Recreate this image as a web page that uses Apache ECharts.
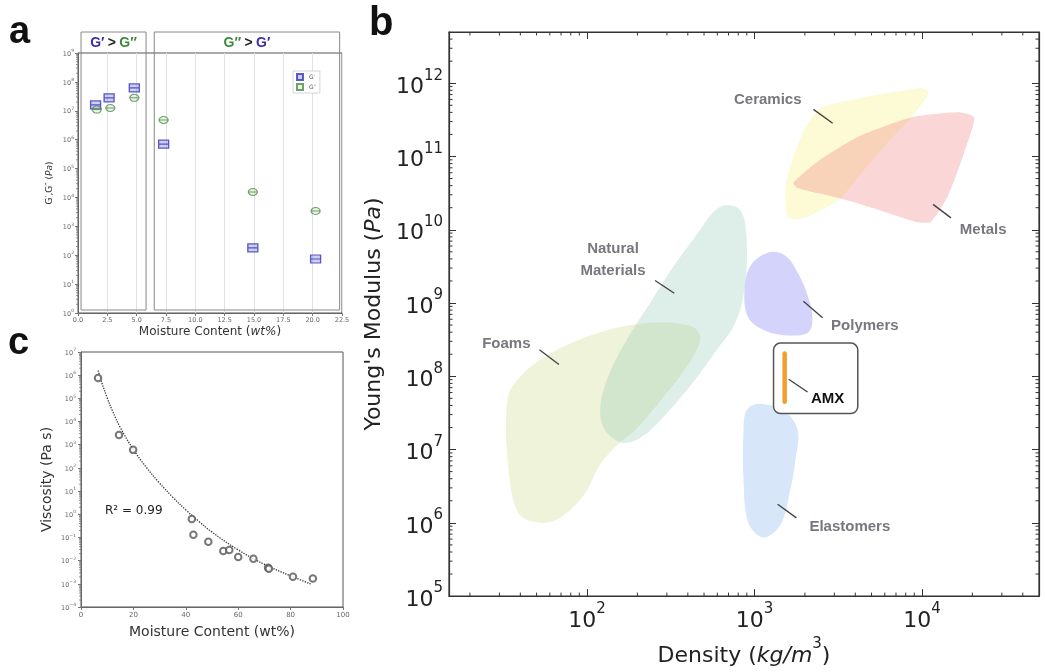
<!DOCTYPE html>
<html><head><meta charset="utf-8">
<script src="https://cdn.jsdelivr.net/npm/echarts@6/dist/echarts.min.js"></script>
<style>html,body{margin:0;padding:0;background:#fff}#c{width:1045px;height:672px}</style>
</head><body><div id="c"></div>
<script>
// ---------------- Panel a : G', G'' vs moisture ----------------
const aGpX  = [1.5, 2.65, 4.8, 7.3, 14.9, 20.25];
const aGpY  = [1.6e7, 2.8e7, 6.2e7, 7.0e5, 180, 74];
const aGppX = [1.6, 2.75, 4.8, 7.3, 14.9, 20.25];
const aGppY = [1.1e7, 1.25e7, 2.8e7, 4.8e6, 1.55e4, 3400];
const aBoxes = [[0.26, 5.8], [6.5, 22.3]];           // regime boxes (wt%)
const aHeaders = ['{p|G′} {k|>} {g|G″}', '{g|G″} {k|>} {p|G′}'];
const aLegend = ['G′', 'G″'];

// ---------------- Panel c : viscosity vs moisture ----------------
const cX = [6.5, 14.5, 19.9, 42.3, 42.9, 48.6, 54.3, 56.6, 60.0, 65.8, 71.4, 71.7, 80.9, 88.5];
const cY = [7.6e5, 2600, 600, 0.63, 0.13, 0.065, 0.026, 0.029, 0.0145, 0.012, 0.0049, 0.0045, 0.0020, 0.0017];
const cFitX = [6.5, 8, 10, 12, 15, 20, 25, 30, 35, 40, 45, 50, 60, 70, 80, 88];
const cFitY = [1.6e6, 4.6e5, 1.05e5, 2.9e4, 5.5e3, 620, 104, 22, 5.5, 1.55, 0.49, 0.17, 0.029, 0.0069, 0.0022, 0.00095];

// ---------------- Panel b : Ashby chart (density kg/m3, modulus Pa) ----------------
const foams = [[36,7.4e7],[56,1.85e8],[120,4.0e8],[238,5.4e8],[414,4.9e8],[475,3.4e8],[414,1.6e8],[274,4.6e7],[194,1.85e7],[153,1.17e7],[120,6.3e6],[97,2.5e6],[69,1.17e6],[52,1.0e6],[39,1.36e6],[34,5.4e6],[33,3.4e7]];
const naturalMaterials = [[670,2.15e10],[824,1.85e10],[895,8.6e9],[883,1.85e9],[769,5.4e8],[583,2.15e8],[414,7.4e7],[274,2.5e7],[208,1.45e7],[162,1.24e7],[128,1.85e7],[120,3.6e7],[134,1.0e8],[169,2.9e8],[238,1.0e9],[336,3.4e9],[475,1.0e10],[561,1.7e10]];
const ceramics = [[1580,1.49e10],[1535,4.0e10],[1710,1.0e11],[2020,2.5e11],[2480,4.6e11],[4310,6.3e11],[9860,8.6e11],[11000,7.4e11],[8830,3.6e11],[6080,1.45e11],[4200,5.4e10],[3270,2.67e10],[2320,1.69e10],[1885,1.4e10]];
const metals = [[1710,4.4e10],[2480,9.1e10],[4140,1.85e11],[8600,3.4e11],[16400,4.0e11],[20500,3.4e11],[17800,1.1e11],[14300,2.9e10],[11300,1.28e10],[9200,1.28e10],[5160,1.96e10],[3270,2.67e10],[1810,3.7e10]];
const polymers = [[1210,4.9e9],[1535,4.4e9],[1830,2.5e9],[2100,1.17e9],[2220,6.3e8],[2100,4.0e8],[1640,3.6e8],[1160,4.2e8],[920,6.3e8],[871,1.36e9],[946,3.2e9]];
const elastomers = [[1040,4.2e7],[1490,3.4e7],[1810,1.85e7],[1760,7.4e6],[1640,2.9e6],[1430,9.4e5],[1130,6.3e5],[920,1.0e6],[860,4.0e6],[860,1.85e7],[895,3.4e7]];
const amxBar = [[1515, 4.5e7], [1515, 2.05e8]];
const amxBox = [[1300, 2.84e8, 4140, 3.1e7]];
const bLabelText = ['Ceramics', 'Metals', 'Natural\nMaterials', 'Foams', 'Polymers', 'Elastomers', 'AMX'];
const bLabelPos = [[1200,5.9e11],[23200,1.0e10],[143,3.86e9],[33,2.75e8],[4560,4.9e8],[3710,8.85e5],[2735,4.93e7]];
const bLeaders = [[2250,4.4e11,2930,2.84e11],[11650,2.22e10,14900,1.45e10],[255,2.03e9,332,1.36e9],[52,2.3e8,68,1.45e8],[1960,1.06e9,2550,6.3e8],[1375,1.79e6,1780,1.17e6],[1600,9.1e7,2075,6.1e7]];

const DV = 'DejaVu Sans', AR = 'Liberation Sans';

function minorLog(lo, hi) { // axis minor tick positions (2..9 x 10^k)
  const out = [];
  for (let k = Math.floor(Math.log10(lo)); k <= Math.ceil(Math.log10(hi)); k++)
    for (let m = 2; m <= 9; m++) { const v = m * Math.pow(10, k); if (v > lo && v < hi) out.push(v); }
  return out;
}
function powLabel(v) {
  const l = Math.log10(v), e = Math.round(l);
  if (Math.abs(l - e) > 1e-6) return '';
  return '{b|10}{s|' + (e < 0 ? '−' + (-e) : e) + '}';
}
function powRich(bs, ss, lh, sl, col) {
  return { b: {fontSize: bs, fontFamily: DV, color: col, lineHeight: lh, verticalAlign: 'bottom'},
           s: {fontSize: ss, fontFamily: DV, color: col, lineHeight: sl, verticalAlign: 'top'} };
}

const chart = echarts.init(document.getElementById('c'), null, {renderer: 'canvas'});

function polySeries(pts, fill, z, sm) {
  return { type: 'custom', xAxisIndex: 2, yAxisIndex: 2, data: pts, z: z, silent: true, clip: true,
    renderItem: (params, api) => params.dataIndex !== 0 ? null : ({
      type: 'polygon', shape: {points: pts.map(p => api.coord(p)), smooth: sm}, style: {fill: fill}
    }) };
}
function tickSeries(xi, yi, vals, isX, len, bothSides) {
  return { type: 'custom', xAxisIndex: xi, yAxisIndex: yi, silent: true, clip: false, z: 5,
    data: vals.map(v => [v]),
    renderItem: (params, api) => {
      const cs = params.coordSys, v = api.value(0), ch = [];
      const st = {stroke: '#333', lineWidth: 1};
      if (isX) {
        const px = api.coord([v, 1e5])[0];
        ch.push({type:'line', shape:{x1:px, y1:cs.y+cs.height, x2:px, y2:cs.y+cs.height-len}, style: st});
        if (bothSides) ch.push({type:'line', shape:{x1:px, y1:cs.y, x2:px, y2:cs.y+len}, style: st});
      } else {
        const py = api.coord([100, v])[1];
        if (bothSides) {
          ch.push({type:'line', shape:{x1:cs.x, y1:py, x2:cs.x+len, y2:py}, style: st});
          ch.push({type:'line', shape:{x1:cs.x+cs.width, y1:py, x2:cs.x+cs.width-len, y2:py}, style: st});
        } else {
          ch.push({type:'line', shape:{x1:cs.x, y1:py, x2:cs.x-len, y2:py}, style: {stroke:'#777', lineWidth:0.8}});
        }
      }
      return {type: 'group', children: ch};
    } };
}

const smallAxisLabel = {fontSize: 6.5, color: '#666', fontFamily: DV};
const bTickRich = powRich(22, 15, 30, 14, '#222');
const bNameRich = {
  n: {fontSize: 22, fontFamily: DV, color: '#222', lineHeight: 30, verticalAlign: 'bottom'},
  i: {fontSize: 22, fontStyle: 'italic', fontFamily: DV, color: '#222', lineHeight: 30, verticalAlign: 'bottom'},
  s: {fontSize: 15, fontFamily: DV, color: '#222', lineHeight: 16, verticalAlign: 'top'}
};

const option = {
  animation: false,
  backgroundColor: '#fff',
  grid: [
    {left: 78, top: 53, width: 264, height: 260, show: true, borderColor: '#555', borderWidth: 1, backgroundColor: 'transparent'},
    {left: 81, top: 352, width: 262, height: 255, show: true, borderColor: '#555', borderWidth: 1},
    {left: 449, top: 32, width: 590, height: 577, show: true, borderColor: '#333', borderWidth: 1.2}
  ],
  legend: {
    data: [{name: aLegend[0], icon: 'path://M0,0H10V10H0Z'}, {name: aLegend[1], icon: 'path://M0,0H10V10H0Z'}],
    left: 293, top: 71, orient: 'vertical', itemWidth: 8, itemHeight: 6, itemGap: 2,
    padding: [2, 4, 2, 3], borderColor: '#ccc', borderWidth: 0.8, backgroundColor: '#fff',
    textStyle: {fontSize: 6, color: '#555', fontFamily: DV}
  },
  xAxis: [
    {gridIndex: 0, type: 'value', min: 0, max: 22.5, interval: 2.5,
     axisLine: {lineStyle: {color: '#666'}}, axisTick: {length: 3, lineStyle: {color: '#777'}},
     axisLabel: Object.assign({formatter: v => v.toFixed(1), margin: 4}, smallAxisLabel),
     splitLine: {show: true, lineStyle: {color: '#dfe3e8', width: 1}},
     name: '{n|Moisture Content (}{i|wt%}{n|)}', nameLocation: 'middle', nameGap: 13,
     nameTextStyle: {rich: {n: {fontSize: 12, fontFamily: DV, color: '#333'}, i: {fontSize: 12, fontStyle: 'italic', fontFamily: DV, color: '#333'}}}},
    {gridIndex: 1, type: 'value', min: 0, max: 100, interval: 20,
     axisLine: {lineStyle: {color: '#666'}}, axisTick: {length: 3, lineStyle: {color: '#777'}},
     axisLabel: Object.assign({margin: 5}, smallAxisLabel, {fontSize: 7}),
     splitLine: {show: false},
     name: 'Moisture Content (wt%)', nameLocation: 'middle', nameGap: 18,
     nameTextStyle: {fontSize: 14, color: '#333', fontFamily: DV}},
    {gridIndex: 2, type: 'log', logBase: 10, min: 15, max: 50000,
     axisLine: {lineStyle: {color: '#333', width: 1.2}}, axisTick: {inside: true, length: 7, lineStyle: {color: '#333'}},
     axisLabel: {formatter: powLabel, rich: bTickRich, margin: 6},
     splitLine: {show: false},
     name: '{n|Density (}{i|kg/m}{s|3}{n|)}', nameLocation: 'middle', nameGap: 34,
     nameTextStyle: {rich: bNameRich}},
    {gridIndex: 2, type: 'log', logBase: 10, min: 15, max: 50000, position: 'top',
     axisLine: {lineStyle: {color: '#333', width: 1.2}}, axisTick: {inside: true, length: 7, lineStyle: {color: '#333'}},
     axisLabel: {show: false}, splitLine: {show: false}}
  ],
  yAxis: [
    {gridIndex: 0, type: 'log', logBase: 10, min: 1, max: 1e9, interval: 1,
     axisLine: {lineStyle: {color: '#666'}}, axisTick: {length: 3, lineStyle: {color: '#777'}},
     axisLabel: {formatter: powLabel, rich: powRich(6.5, 4.5, 9, 5, '#666'), margin: 4},
     splitLine: {show: false},
     name: '{n|G′,G″ (}{i|Pa}{n|)}', nameLocation: 'middle', nameGap: 24,
     nameTextStyle: {rich: {n: {fontSize: 9, fontFamily: DV, color: '#333'}, i: {fontSize: 9, fontStyle: 'italic', fontFamily: DV, color: '#333'}}}},
    {gridIndex: 1, type: 'log', logBase: 10, min: 1e-4, max: 1e7, interval: 1,
     axisLine: {lineStyle: {color: '#666'}}, axisTick: {length: 3, lineStyle: {color: '#777'}},
     axisLabel: {formatter: powLabel, rich: powRich(6.5, 4.5, 9, 5, '#666'), margin: 5},
     splitLine: {show: false},
     name: 'Viscosity (Pa s)', nameLocation: 'middle', nameGap: 27,
     nameTextStyle: {fontSize: 14, color: '#333', fontFamily: DV}},
    {gridIndex: 2, type: 'log', logBase: 10, min: 1e5, max: 5e12,
     axisLine: {lineStyle: {color: '#333', width: 1.2}}, axisTick: {inside: true, length: 7, lineStyle: {color: '#333'}},
     axisLabel: {formatter: powLabel, rich: bTickRich, margin: 6},
     splitLine: {show: false},
     name: '{n|Young\'s Modulus (}{i|Pa}{n|)}', nameLocation: 'middle', nameGap: 57,
     nameTextStyle: {rich: bNameRich}},
    {gridIndex: 2, type: 'log', logBase: 10, min: 1e5, max: 5e12, position: 'right',
     axisLine: {lineStyle: {color: '#333', width: 1.2}}, axisTick: {inside: true, length: 7, lineStyle: {color: '#333'}},
     axisLabel: {show: false}, splitLine: {show: false}}
  ],
  graphic: [
    {type: 'text', left: 9, top: 14, style: {text: 'a', fontSize: 38, fontWeight: 'bold', fontFamily: AR, fill: '#111'}},
    {type: 'text', left: 369, top: 4, style: {text: 'b', fontSize: 40, fontWeight: 'bold', fontFamily: AR, fill: '#111'}},
    {type: 'text', left: 8, top: 325, style: {text: 'c', fontSize: 38, fontWeight: 'bold', fontFamily: AR, fill: '#111'}},
    {type: 'text', left: 105, top: 505, style: {text: 'R² = 0.99', fontSize: 12, fontFamily: DV, fill: '#222'}}
  ],
  series: [
    // panel a regime boxes + headers
    {type: 'custom', xAxisIndex: 0, yAxisIndex: 0, data: aBoxes, clip: false, silent: true, z: 1,
     renderItem: (params, api) => {
       const tl = api.coord([api.value(0), 1e9]), br = api.coord([api.value(1), 1]);
       const top = tl[1] - 21, bot = br[1] - 3;
       return {type: 'group', children: [
         {type: 'rect', shape: {x: tl[0], y: top, width: br[0] - tl[0], height: bot - top}, style: {fill: 'none', stroke: '#888', lineWidth: 1}},
         {type: 'text', style: {text: aHeaders[params.dataIndex], x: (tl[0] + br[0]) / 2, y: top + 11, align: 'center', verticalAlign: 'middle',
           rich: {p: {fontSize: 14, fontWeight: 'bold', fill: '#3a2ea8', fontFamily: AR},
                  g: {fontSize: 14, fontWeight: 'bold', fill: '#3b8a3b', fontFamily: AR},
                  k: {fontSize: 14, fontWeight: 'bold', fill: '#222', fontFamily: AR}}}}
       ]};
     }},
    tickSeries(0, 0, minorLog(1, 1e9), false, 2),
    {name: 'G′', type: 'scatter', xAxisIndex: 0, yAxisIndex: 0, z: 4,
     data: aGpX.map((x, i) => [x, aGpY[i]]),
     symbol: 'path://M0,0H10V8H0Z M0,4H10', symbolSize: [10, 8],
     itemStyle: {color: 'rgba(120,120,235,0.45)', borderColor: '#3434b4', borderWidth: 1.2}},
    {name: 'G″', type: 'scatter', xAxisIndex: 0, yAxisIndex: 0, z: 4,
     data: aGppX.map((x, i) => [x, aGppY[i]]),
     symbol: 'path://M10,4A5,4 0 1 1 0,4A5,4 0 1 1 10,4Z M0,4H10', symbolSize: [9, 7],
     itemStyle: {color: 'rgba(150,200,130,0.25)', borderColor: '#4d8a45', borderWidth: 1.1}},
    // panel c
    tickSeries(1, 1, minorLog(1e-4, 1e7), false, 2),
    {type: 'line', xAxisIndex: 1, yAxisIndex: 1, data: cFitX.map((x, i) => [x, cFitY[i]]), smooth: 0.4, symbol: 'none',
     lineStyle: {type: 'dotted', color: '#333', width: 1.3}, z: 3},
    {type: 'scatter', xAxisIndex: 1, yAxisIndex: 1, data: cX.map((x, i) => [x, cY[i]]), symbol: 'emptyCircle', symbolSize: 6.5,
     itemStyle: {color: '#555', borderColor: '#555', borderWidth: 1}, z: 4},
    // panel b regions
    polySeries(foams, 'rgba(205,218,140,0.32)', 2, 0.35),
    polySeries(naturalMaterials, 'rgba(130,195,170,0.27)', 3, 0.35),
    polySeries(elastomers, 'rgba(150,190,240,0.38)', 3, 0.35),
    polySeries(polymers, 'rgba(150,150,245,0.42)', 3, 0.35),
    polySeries(ceramics, 'rgba(250,240,120,0.30)', 3, 0.2),
    polySeries(metals, 'rgba(240,120,120,0.30)', 4, 0.2),
    tickSeries(2, 2, minorLog(15, 50000), true, 3.5, true),
    tickSeries(2, 2, minorLog(1e5, 5e12), false, 3.5, true),
    // AMX box & bar
    {type: 'custom', xAxisIndex: 2, yAxisIndex: 2, data: amxBox, silent: true, z: 6,
     renderItem: (params, api) => {
       const a = api.coord([api.value(0), api.value(1)]), b = api.coord([api.value(2), api.value(3)]);
       return {type: 'rect', shape: {x: a[0], y: a[1], width: b[0] - a[0], height: b[1] - a[1], r: 7},
               style: {fill: '#fff', stroke: '#555', lineWidth: 1.5}};
     }},
    {type: 'line', xAxisIndex: 2, yAxisIndex: 2, data: amxBar, symbol: 'none', z: 7,
     lineStyle: {color: '#f0a030', width: 4.5, cap: 'round'}},
    // leaders
    {type: 'custom', xAxisIndex: 2, yAxisIndex: 2, data: bLeaders, silent: true, z: 8,
     renderItem: (params, api) => {
       const a = api.coord([api.value(0), api.value(1)]), b = api.coord([api.value(2), api.value(3)]);
       return {type: 'line', shape: {x1: a[0], y1: a[1], x2: b[0], y2: b[1]}, style: {stroke: '#444', lineWidth: 1.4}};
     }},
    // labels
    {type: 'custom', xAxisIndex: 2, yAxisIndex: 2, data: bLabelPos, silent: true, z: 9,
     renderItem: (params, api) => {
       const p = api.coord([api.value(0), api.value(1)]);
       const isAmx = bLabelText[params.dataIndex] === 'AMX';
       return {type: 'text', style: {text: bLabelText[params.dataIndex], x: p[0], y: p[1], align: 'center', verticalAlign: 'middle',
         fontSize: 15, fontWeight: 'bold', fontFamily: AR, lineHeight: 22, fill: isAmx ? '#111' : '#77777f'}};
     }}
  ]
};
chart.setOption(option);
</script>
</body></html>
